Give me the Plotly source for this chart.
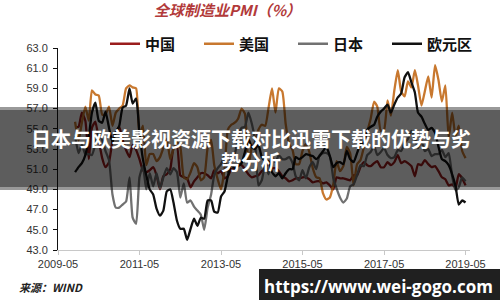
import pandas as pd
import plotly.graph_objects as go

# ---------------- data (monthly, 2009-10 .. 2019-05) ----------------
start_month = "2009-10-01"

china = [55.2, 55.2, 56.6,
         55.8, 52.0, 55.1, 55.7, 53.9, 52.1, 51.2, 51.7, 53.8, 54.7, 55.2, 53.9,
         52.9, 52.2, 53.4, 52.9, 52.0, 50.9, 50.7, 50.9, 51.2, 50.4, 49.0, 50.3,
         50.5, 51.0, 53.1, 53.3, 50.4, 50.2, 50.1, 49.2, 49.8, 50.2, 50.6, 50.6,
         50.4, 50.1, 50.9, 50.6, 50.8, 50.1, 50.3, 51.0, 51.1, 51.4, 51.4, 51.0,
         50.5, 50.2, 50.3, 50.4, 50.8, 51.0, 51.7, 51.1, 51.1, 50.8, 50.3, 50.1,
         49.8, 49.9, 50.1, 50.1, 50.2, 50.2, 50.0, 49.7, 49.8, 49.8, 49.6, 49.7,
         49.4, 49.0, 50.2, 50.1, 50.1, 50.0, 49.9, 50.4, 50.4, 51.2, 51.7, 51.4,
         51.3, 51.6, 51.8, 51.2, 51.2, 51.7, 51.4, 51.7, 52.4, 51.6, 51.8, 51.6,
         51.3, 50.3, 51.5, 51.4, 51.9, 51.5, 51.2, 51.3, 50.8, 50.2, 50.0, 49.4,
         49.5, 49.2, 50.5, 50.1, 49.4]

usa = [55.7, 53.8, 55.6,
       57.2, 55.8, 58.8, 58.4, 58.3, 56.4, 56.4, 57.2, 55.3, 56.6, 57.0, 57.3,
       59.0, 59.3, 59.1, 59.0, 54.2, 55.3, 51.4, 52.5, 52.5, 51.8, 52.2, 53.1,
       54.0, 52.0, 53.0, 53.7, 53.2, 50.2, 50.0, 50.7, 51.6, 51.2, 49.9, 50.2,
       53.1, 53.9, 51.4, 50.0, 49.0, 51.0, 54.9, 55.4, 55.6, 56.0, 57.0, 56.5,
       51.3, 53.2, 53.7, 54.9, 55.4, 55.3, 57.1, 59.0, 56.6, 59.0, 58.7, 55.5,
       53.5, 52.9, 51.5, 51.5, 52.8, 53.5, 52.7, 51.1, 50.2, 50.1, 48.6, 48.0,
       48.2, 49.5, 51.8, 50.8, 51.3, 53.2, 52.6, 49.4, 51.5, 51.9, 53.2, 54.7,
       56.0, 57.7, 57.2, 54.8, 54.9, 57.8, 56.3, 58.8, 60.8, 58.7, 58.2, 59.7,
       59.1, 60.8, 59.3, 57.3, 58.7, 60.2, 58.1, 61.3, 59.8, 57.7, 59.3, 54.1,
       56.6, 54.2, 55.3, 52.8, 52.1]

japan = [54.3, 52.6, 53.4,
         52.5, 52.5, 52.4, 53.5, 54.7, 53.9, 52.8, 51.9, 48.5, 47.2, 47.2, 47.5,
         47.8, 50.2, 46.2, 45.6, 50.2, 51.3, 49.0, 50.6, 49.3, 50.6, 49.1, 50.2,
         51.1, 50.5, 51.1, 50.7, 48.2, 49.6, 47.7, 47.9, 47.3, 46.9, 46.5, 45.0,
         47.2, 48.5, 50.4, 51.1, 51.5, 52.3, 50.7, 52.2, 52.5, 54.2, 55.1, 55.2,
         56.6, 55.5, 53.9, 49.4, 49.9, 51.5, 50.5, 52.2, 51.7, 52.4, 52.0, 52.0,
         52.2, 51.6, 50.3, 49.9, 50.9, 50.1, 51.2, 51.7, 51.0, 52.4, 52.6, 52.6,
         52.3, 50.1, 49.1, 48.2, 47.7, 48.1, 49.3, 49.5, 50.4, 51.4, 51.3, 52.4,
         52.7, 53.3, 52.4, 52.7, 53.1, 52.4, 52.1, 52.2, 52.9, 52.8, 53.6, 54.0,
         54.8, 54.1, 53.1, 53.8, 52.8, 53.0, 52.3, 52.5, 52.5, 52.9, 52.2, 52.6,
         50.3, 48.9, 49.2, 50.2, 49.8]

euro = [50.7, 51.2, 51.6,
        52.4, 54.2, 56.6, 57.6, 55.8, 55.6, 56.7, 55.1, 53.7, 54.6, 55.3, 57.1,
        57.3, 59.0, 57.5, 58.0, 54.6, 52.0, 50.4, 49.0, 48.5, 47.1, 46.4, 46.9,
        48.8, 49.0, 47.7, 45.9, 45.1, 45.1, 44.0, 45.1, 46.1, 45.4, 46.2, 46.1,
        47.9, 47.9, 46.8, 46.7, 48.3, 48.8, 50.3, 51.4, 51.1, 51.3, 51.6, 52.7,
        54.0, 53.2, 53.0, 53.4, 52.2, 51.8, 51.8, 50.7, 50.3, 50.6, 50.1, 50.6,
        51.0, 51.0, 52.2, 52.0, 52.2, 52.5, 52.4, 52.3, 52.0, 52.3, 52.8, 53.2,
        52.3, 51.2, 51.6, 51.7, 51.5, 52.8, 52.0, 51.7, 52.6, 53.5, 53.7, 54.9,
        55.2, 55.4, 56.2, 56.7, 57.0, 57.4, 56.6, 57.4, 58.1, 58.5, 60.1, 60.6,
        59.6, 58.6, 56.6, 56.2, 55.5, 54.9, 55.1, 54.6, 53.2, 52.0, 51.8, 51.4,
        50.5, 49.3, 47.5, 47.9, 47.7]

series_names = ["中国", "美国", "日本", "欧元区"]
series_colors = ["#9a1d1d", "#c8782f", "#717171", "#111111"]
x_tick_labels = ["2009-05", "2011-05", "2013-05", "2015-05", "2017-05", "2019-05"]

months = pd.date_range(start_month, periods=len(euro), freq="MS")

fig = go.Figure()
for name, vals, col in zip(series_names, [china, usa, japan, euro], series_colors):
    fig.add_trace(go.Scatter(x=months, y=vals, mode="lines", name=name,
                             line=dict(color=col, width=2.3, shape="spline", smoothing=0.5)))

W, H = 500, 300
L, R, T, B = 58, 30, 48, 50
pw, ph = W - L - R, H - T - B


def px(xp):
    return (xp - L) / pw


def py(yp):
    return (H - B - yp) / ph


fig.update_layout(
    width=W, height=H,
    margin=dict(l=L, r=R, t=T, b=B, autoexpand=False),
    paper_bgcolor="white", plot_bgcolor="white",
    font=dict(family="Arial, Liberation Sans, sans-serif", size=11, color="#333"),
    title=dict(text="全球制造业PMI（%）", x=0.455, xanchor="center", y=1 - 11 / H, yanchor="middle",
               font=dict(family="Noto Sans CJK SC", size=15, color="#b23a3a", style="italic", weight="bold")),
    showlegend=True,
    legend=dict(orientation="h", xref="container", yref="paper",
                x=105 / W, xanchor="left", y=py(44), yanchor="middle",
                font=dict(family="Noto Sans CJK SC", size=15, color="#111", weight="bold"),
                entrywidth=49, entrywidthmode="pixels", bgcolor="rgba(0,0,0,0)",
                traceorder="normal", itemwidth=30),
    xaxis=dict(type="date", range=["2009-05-01", "2019-06-10"],
               tickvals=[pd.Timestamp(t + "-01") for t in x_tick_labels], ticktext=x_tick_labels,
               showline=True, linecolor="#c8c8c8", linewidth=1,
               ticks="outside", ticklen=4, tickcolor="#c8c8c8",
               showgrid=False, zeroline=False, tickfont=dict(size=11, color="#333")),
    yaxis=dict(range=[43, 63], dtick=2, tick0=43, tickformat=".1f",
               showline=True, linecolor="#111", linewidth=1,
               ticks="outside", ticklen=4, tickcolor="#111",
               showgrid=False, zeroline=False, tickfont=dict(size=11, color="#333"),
               ticklabelstandoff=3),
)

# grey banner overlay
fig.add_shape(type="rect", xref="paper", yref="paper", x0=px(-5), x1=px(505), y0=py(190), y1=py(107),
              fillcolor="rgba(0,0,0,0.40)", line=dict(width=0), layer="above")
fig.add_shape(type="rect", xref="paper", yref="paper", x0=px(-5), x1=px(505), y0=py(187), y1=py(110),
              fillcolor="rgba(0,0,0,0.39)", line=dict(width=0), layer="above")
fig.add_annotation(text="日本与欧美影视资源下载对比迅雷下载的优势与劣", xref="paper", yref="paper",
                   x=px(251), y=py(138), xanchor="center", yanchor="middle", showarrow=False,
                   font=dict(family="Noto Sans CJK SC", size=20, color="white", weight="bold"))
fig.add_annotation(text="势分析", xref="paper", yref="paper",
                   x=px(251), y=py(161), xanchor="center", yanchor="middle", showarrow=False,
                   font=dict(family="Noto Sans CJK SC", size=20, color="white", weight="bold"))

# source note
fig.add_annotation(text="来源：WIND", xref="paper", yref="paper", x=px(17), y=py(287),
                   xanchor="left", yanchor="middle", showarrow=False,
                   font=dict(family="Noto Sans CJK SC", size=11, color="#222", style="italic", weight="bold"))

# watermark box
fig.add_shape(type="rect", xref="paper", yref="paper", x0=px(259), x1=px(505), y0=py(305), y1=py(269),
              fillcolor="#202020", line=dict(width=0), layer="above")
fig.add_annotation(text="https://www.wei-gogo.com", xref="paper", yref="paper", x=px(378), y=py(286),
                   xanchor="center", yanchor="middle", showarrow=False,
                   font=dict(family="Open Sans", size=17, color="white", weight="bold"))

fig.write_html("out.html")
